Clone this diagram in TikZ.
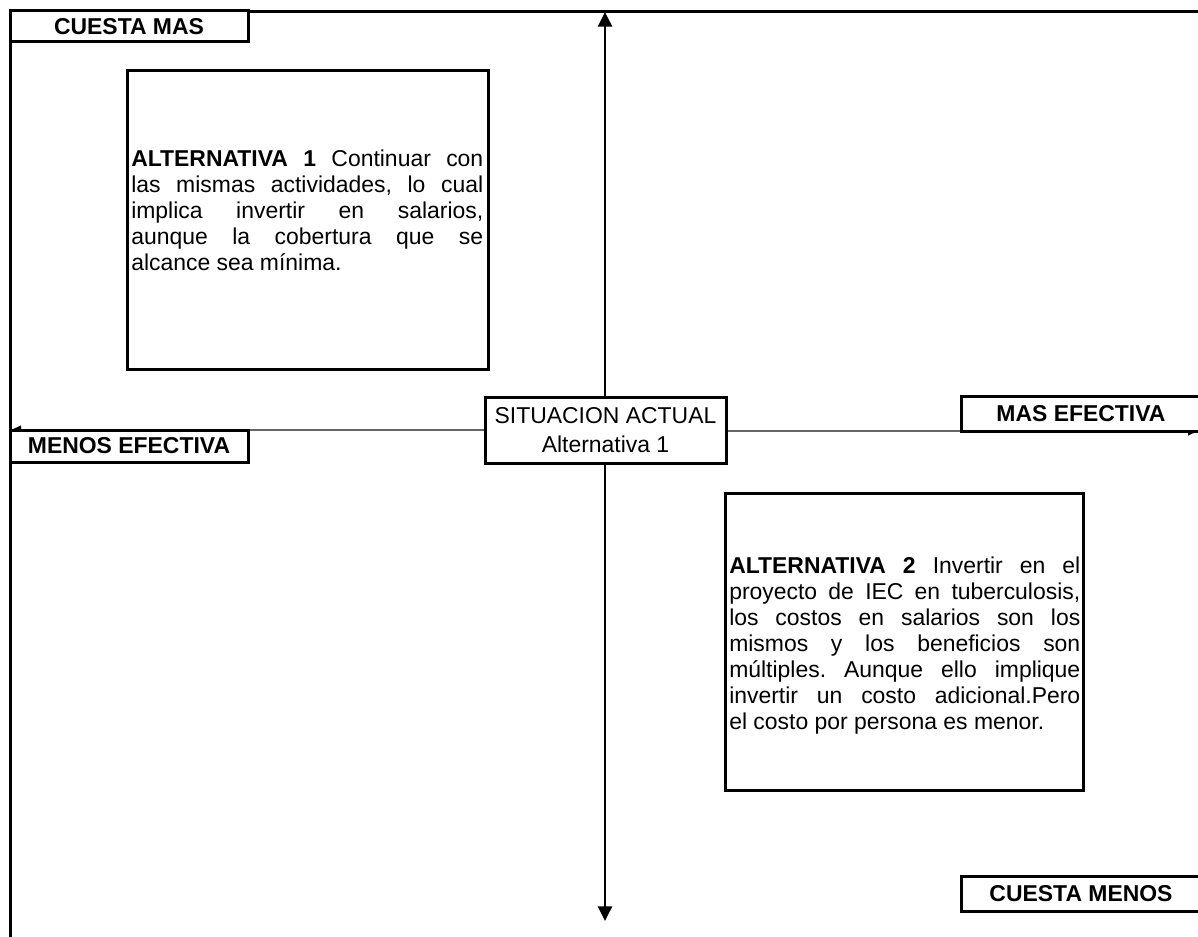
\documentclass[tikz,border=0pt]{standalone}
\usepackage{fontspec}
\setmainfont{Liberation Sans}
\usetikzlibrary{arrows.meta,backgrounds}
\newdimen\px \px=0.75pt
\frenchspacing
\tolerance=10000
\hbadness=10000
\tikzset{
  frameline/.style={line width=2.25pt, line join=miter},
  boxline/.style={draw, fill=white, line width=2.25pt, inner sep=0pt},
  lbl/.style={boxline, font=\fontsize{17.2}{19.5}\selectfont\bfseries},
  para/.style={inner sep=0pt, anchor=north west, align=justify,
    font=\fontsize{17.2}{19.5}\selectfont},
  vaxis/.style={line width=1.8pt, -{Triangle[length=11pt,width=10.5pt]}},
  haxis/.style={line width=1.4pt, black!60, -{Triangle[length=7.5pt,width=6.5pt,color=black]}},
}
\begin{document}
\begin{tikzpicture}[x=0.75pt,y=-0.75pt]
\useasboundingbox (0,0) rectangle (1198,937);
% outer frame
\coordinate (fbl) at (10,940);
\coordinate (ftl) at (10,11.5);
\coordinate (ftr) at (1200,11.5);
\draw[frameline] (fbl) -- (ftl) -- (ftr);
% axis ends
\coordinate (top) at (605,12);
\coordinate (bot) at (605,921);
\coordinate (lft) at (11,430);
\coordinate (rgt) at (1198,431);
% corner labels
\node[lbl, minimum width=238\px, minimum height=31\px] (cmas) at (129,26.5) {CUESTA MAS};
\node[lbl, minimum width=238\px, minimum height=32\px] (menos) at (129,446) {MENOS EFECTIVA};
\node[lbl, minimum width=240\px, minimum height=34\px] (mas) at (1081,414) {MAS EFECTIVA};
\node[lbl, minimum width=240\px, minimum height=35\px] (cmenos) at (1081,893.5) {CUESTA MENOS};
% centre
\node[boxline, minimum width=241\px, minimum height=65\px, align=center,
  font=\fontsize{17.2}{21.75}\selectfont] (ctr) at (605.5,430.5) {SITUACION ACTUAL\\Alternativa 1};
% alternative boxes
\node[boxline, minimum width=361\px, minimum height=299\px] (alt1) at (307.5,220.5) {};
\node[boxline, minimum width=358\px, minimum height=297\px] (alt2) at (904,641.5) {};
\node[para, text width=352\px] (alt1t) at (131,150) {\textbf{ALTERNATIVA 1} Continuar con\linebreak
las mismas actividades, lo cual\linebreak
implica invertir en salarios,\linebreak
aunque la cobertura que se\linebreak
alcance sea mínima.};
\node[para, text width=351\px] (alt2t) at (729,557) {\textbf{ALTERNATIVA 2} Invertir en el\linebreak
proyecto de IEC en tuberculosis,\linebreak
los costos en salarios son los\linebreak
mismos y los beneficios son\linebreak
múltiples. Aunque ello implique\linebreak
invertir un costo adicional.Pero\linebreak
el costo por persona es menor.};
% axes
\begin{pgfonlayer}{background}
\draw[vaxis] (ctr.north -| top) -- (top);
\draw[vaxis] (ctr.south -| bot) -- (bot);
\draw[haxis] (ctr.west |- lft) -- (lft);
\draw[haxis] (ctr.east |- rgt) -- (rgt);
\end{pgfonlayer}
\end{tikzpicture}
\end{document}
